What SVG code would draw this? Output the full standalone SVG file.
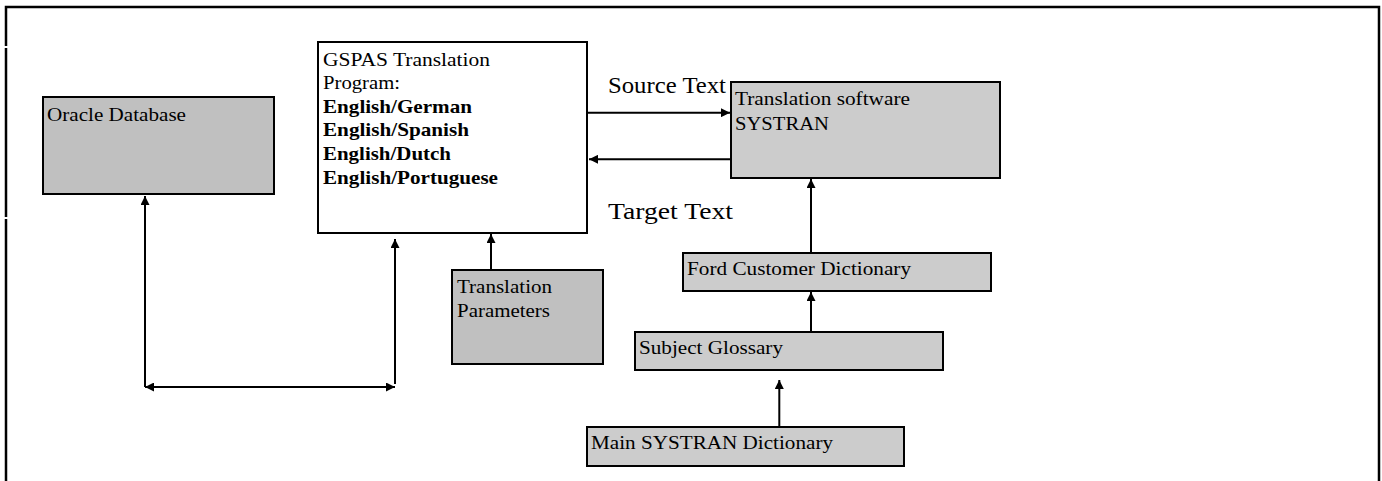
<svg xmlns="http://www.w3.org/2000/svg" width="1382" height="481" viewBox="0 0 1382 481">
<style>
.box{stroke:#000;stroke-width:2}
.dark{fill:#c0c0c0}
.light{fill:#cccccc}
.white{fill:#fff}
text{font-family:"Liberation Serif","Times New Roman",serif;font-size:19.5px;fill:#000}
.b{font-weight:bold}
.lbl{font-size:23px}
.con{stroke:#000;stroke-width:2;fill:none}
</style>
<defs>
<marker id="ah" viewBox="0 0 10 10" refX="10" refY="5" markerWidth="10" markerHeight="9" markerUnits="userSpaceOnUse" orient="auto-start-reverse">
<path d="M0,0 L10,5 L0,10 z" fill="#000"/>
</marker>
</defs>
<rect width="1382" height="481" fill="#fff"/>
<g id="frame" stroke="#000" stroke-width="2.5" fill="none">
<path d="M6,481 V219 M6,217 V48 M6,46 V7 H1379 V481"/>
</g>
<g id="oracle">
<rect class="box dark" x="43" y="97" width="231" height="97"/>
<text x="47" y="120.7" textLength="139" lengthAdjust="spacingAndGlyphs">Oracle Database</text>
</g>
<g id="gspas">
<rect class="box white" x="318" y="42" width="269" height="191"/>
<text x="323" y="65.5" textLength="167" lengthAdjust="spacingAndGlyphs">GSPAS Translation</text>
<text x="323" y="89" textLength="77" lengthAdjust="spacingAndGlyphs">Program:</text>
<text class="b" x="323" y="112.7" textLength="149" lengthAdjust="spacingAndGlyphs">English/German</text>
<text class="b" x="323" y="136.3" textLength="146" lengthAdjust="spacingAndGlyphs">English/Spanish</text>
<text class="b" x="323" y="160" textLength="128" lengthAdjust="spacingAndGlyphs">English/Dutch</text>
<text class="b" x="323" y="183.5" textLength="175" lengthAdjust="spacingAndGlyphs">English/Portuguese</text>
</g>
<g id="systran">
<rect class="box light" x="731" y="82" width="269" height="96"/>
<text x="735" y="105" textLength="175" lengthAdjust="spacingAndGlyphs">Translation software</text>
<text x="735" y="130" textLength="94" lengthAdjust="spacingAndGlyphs">SYSTRAN</text>
</g>
<g id="params">
<rect class="box dark" x="452" y="270" width="151" height="94"/>
<text x="457" y="292.7" textLength="95" lengthAdjust="spacingAndGlyphs">Translation</text>
<text x="457" y="316.7" textLength="93" lengthAdjust="spacingAndGlyphs">Parameters</text>
</g>
<g id="ford">
<rect class="box light" x="683" y="253" width="308" height="38"/>
<text x="687" y="275" textLength="224" lengthAdjust="spacingAndGlyphs">Ford Customer Dictionary</text>
</g>
<g id="subject">
<rect class="box light" x="635" y="332" width="308" height="38"/>
<text x="639" y="354" textLength="144" lengthAdjust="spacingAndGlyphs">Subject Glossary</text>
</g>
<g id="main">
<rect class="box light" x="587" y="427" width="317" height="39"/>
<text x="591" y="449.3" textLength="242" lengthAdjust="spacingAndGlyphs">Main SYSTRAN Dictionary</text>
</g>
<g id="labels">
<text class="lbl" x="608" y="92.5" textLength="118" lengthAdjust="spacingAndGlyphs">Source Text</text>
<text class="lbl" x="608" y="219" textLength="125" lengthAdjust="spacingAndGlyphs">Target Text</text>
</g>
<g id="connectors" class="con">
<path class="con" d="M587,112.7 H730" marker-end="url(#ah)"/>
<path class="con" d="M731,159.3 H589" marker-end="url(#ah)"/>
<path class="con" d="M811,253 V179" marker-end="url(#ah)"/>
<path class="con" d="M811,332 V292" marker-end="url(#ah)"/>
<path class="con" d="M779.3,427 V380" marker-end="url(#ah)"/>
<path class="con" d="M491,271 V234" marker-end="url(#ah)"/>
<path class="con" d="M145,387 V196" marker-end="url(#ah)"/>
<path class="con" d="M145,387 H395" marker-start="url(#ah)" marker-end="url(#ah)"/>
<path class="con" d="M395,384 V239" marker-end="url(#ah)"/>
</g>
</svg>
